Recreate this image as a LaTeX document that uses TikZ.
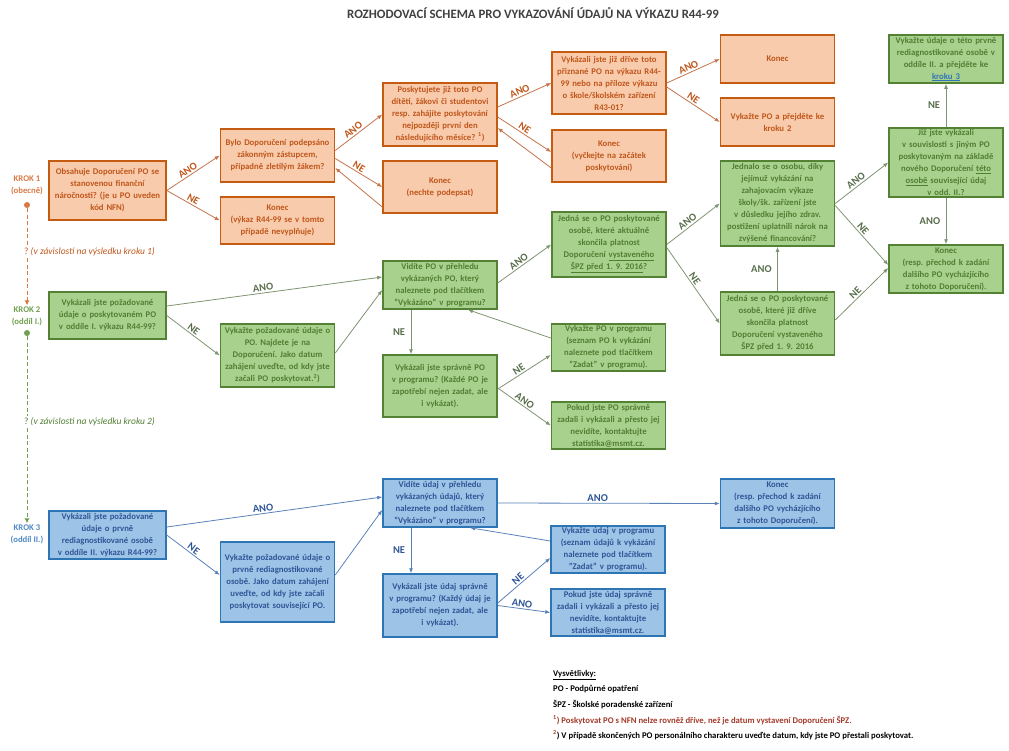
\documentclass[tikz,border=0pt]{standalone}
\usepackage{fontspec}
\setmainfont{Carlito}
\usetikzlibrary{arrows.meta}
\frenchspacing
\definecolor{ofill}{HTML}{F8CBAD}
\definecolor{oedge}{HTML}{C55A11}
\definecolor{otext}{HTML}{C0561A}
\definecolor{oline}{HTML}{C4734A}
\definecolor{gfill}{HTML}{A9D18E}
\definecolor{gedge}{HTML}{548235}
\definecolor{gtext}{HTML}{507E32}
\definecolor{gline}{HTML}{7F9472}
\definecolor{greenlab}{HTML}{596E4C}
\definecolor{bfill}{HTML}{9DC3E6}
\definecolor{bedge}{HTML}{2E75B6}
\definecolor{btext}{HTML}{2F5597}
\definecolor{bline}{HTML}{5B82B8}
\definecolor{kone}{HTML}{D97A45}
\definecolor{ktwo}{HTML}{70A050}
\definecolor{kthree}{HTML}{4F88C6}
\definecolor{titlegray}{HTML}{404040}
\definecolor{legred}{HTML}{A33A2A}
\begin{document}
\begin{tikzpicture}[x=1pt, y=-1pt,
  box/.style={draw, line width=1.5pt, align=center, inner sep=0pt, text width=113pt, minimum width=114pt, font=\fontsize{8.7}{12}\selectfont\bfseries},
  obox/.style={box, fill=ofill, draw=oedge, text=otext},
  gbox/.style={box, fill=gfill, draw=gedge, text=gtext},
  bbox/.style={box, fill=bfill, draw=bedge, text=btext},
  arr/.style={-{Latex[length=5pt,width=4pt]}, line width=0.8pt},
  oarr/.style={arr, draw=oline},
  garr/.style={arr, draw=gline},
  barr/.style={arr, draw=bline},
  lab/.style={font=\fontsize{10.5}{11}\selectfont\bfseries, inner sep=1.5pt},
  olab/.style={lab, text=otext, above, sloped, pos=0.45},
  glab/.style={lab, text=greenlab, above, sloped, pos=0.45},
  blab/.style={lab, text=btext, above, sloped, pos=0.45},
  gvlab/.style={lab, text=greenlab, left=4pt},
  bvlab/.style={lab, text=btext, left=4pt},
  kroklab/.style={align=center, inner sep=1pt, font=\fontsize{8.7}{12}\selectfont\bfseries},
  kdot/.style={circle, inner sep=0pt, minimum size=6pt},
  qtext/.style={anchor=west, inner sep=2pt, font=\fontsize{9.5}{11}\selectfont},
  kdash/.style={line width=0.8pt, dash pattern=on 4pt off 2.5pt}]
\useasboundingbox (0,0) rectangle (1009,750);

\node[font=\fontsize{12.8}{14}\selectfont\bfseries, text=titlegray] (title) at (533,13) {ROZHODOVACÍ SCHEMA PRO VYKAZOVÁNÍ ÚDAJŮ NA VÝKAZU R44-99};

% krok 1
\node[obox, minimum width=117pt, text width=116pt, minimum height=59pt] (o1) at (107.5,190.5) {Obsahuje Doporučení PO se\\stanovenou finanční\\náročnosti? (je u PO uveden\\kód NFN)};
\node[obox, minimum height=53pt] (o2) at (277.5,155.5) {Bylo Doporučení podepsáno\\zákonným zástupcem,\\případně zletilým žákem?};
\node[obox, minimum height=47pt] (o3) at (277.5,220.5) {Konec\\(výkaz R44-99 se v tomto\\případě nevyplňuje)};
\node[obox, minimum height=63pt] (o4) at (440,114.5) {Poskytujete již toto PO\\dítěti, žákovi či studentovi\\resp. zahájíte poskytování\\nejpozději první den\\následujícího měsíce? \textsuperscript{1})};
\node[obox, minimum height=52pt] (o5) at (440,187) {Konec\\(nechte podepsat)};
\node[obox, minimum height=62pt] (o6) at (609,83) {Vykázali jste již dříve toto\\přiznané PO na výkazu R44-\\99 nebo na příloze výkazu\\o škole/školském zařízení\\R43-01?};
\node[obox, minimum height=52pt] (o7) at (609,156) {Konec\\(vyčkejte na začátek\\poskytování)};
\node[obox, minimum height=48pt] (o8) at (777.5,59) {Konec};
\node[obox, minimum height=48pt] (o9) at (777.5,122) {Vykažte PO a přejděte ke\\kroku 2};

\draw[oarr] (o1.east) -- node[olab]{ANO} (o2.west);
\draw[oarr] (o1.east) -- node[olab]{NE} (o3.west);
\draw[oarr] ([yshift=5pt]o2.east) -- node[olab]{ANO} (o4.west);
\draw[oarr] ([yshift=-3pt]o2.east) -- node[olab]{NE} (o5.west);
\draw[oarr] ([yshift=-20pt]o5.west) -- ([yshift=-12.5pt]o2.east);
\draw[oarr] ([yshift=7.5pt]o4.east) -- node[olab]{ANO} (o6.west);
\draw[oarr] ([yshift=-2.5pt]o4.east) -- node[olab]{NE} ([yshift=4pt]o7.west);
\draw[oarr] ([yshift=-12pt]o7.west) -- ([yshift=-13.5pt]o4.east);
\draw[oarr] (o6.east) -- node[olab]{ANO} (o8.west);
\draw[oarr] ([yshift=-4pt]o6.east) -- node[olab]{NE} (o9.west);

% krok 2
\node[gbox, minimum height=48pt] (g1) at (946,59) {Vykažte údaje o této prvně\\rediagnostikované osobě v\\oddíle II. a přejděte ke\\\textcolor{bedge}{\underline{kroku 3}}};
\node[gbox, minimum height=69pt] (g2) at (946,162.5) {Již jste vykázali\\v souvislosti s jiným PO\\poskytovaným na základě\\nového Doporučení \underline{této}\\\underline{osobě} související údaj\\v odd. II.?};
\node[gbox, minimum height=48pt] (g3) at (946,269) {Konec\\(resp. přechod k zadání\\dalšího PO vycházjícího\\z tohoto Doporučení).};
\node[gbox, minimum height=85pt] (g4) at (777.5,203.5) {Jednalo se o osobu, díky\\jejímuž vykázání na\\zahajovacím výkaze\\školy/šk. zařízení jste\\v důsledku jejího zdrav.\\postižení uplatnili nárok na\\zvýšené financování?};
\node[gbox, minimum height=65pt] (g5) at (609,244.5) {Jedná se o PO poskytované\\osobě, které aktuálně\\skončila platnost\\Doporučení \underline{vystaveného}\\\underline{ŠPZ před 1. 9. 2016}?};
\node[gbox, minimum height=63pt] (g6) at (777.5,323.5) {Jedná se o PO poskytované\\osobě, které již dříve\\skončila platnost\\Doporučení vystaveného\\ŠPZ před 1. 9. 2016};
\node[gbox, minimum width=117pt, text width=116pt, minimum height=47pt] (g7) at (107.5,315.5) {Vykázali jste požadované\\údaje o poskytovaném PO\\v oddíle I. výkazu R44-99?};
\node[gbox, minimum height=63pt] (g8) at (277.5,355.5) {Vykažte požadované údaje o\\PO. Najdete je na\\Doporučení. Jako datum\\zahájení uveďte, od kdy jste\\začali PO poskytovat.\textsuperscript{2})};
\node[gbox, minimum height=48pt] (g9) at (440,285) {Vidíte PO v přehledu\\vykázaných PO, který\\naleznete pod tlačítkem\\\symbol{34}Vykázáno\symbol{34} v programu?};
\node[gbox, minimum height=62pt] (g10) at (440,386) {Vykázali jste správně PO\\v programu? (Každé PO je\\zapotřebí nejen zadat, ale\\i vykázat).};
\node[gbox, minimum height=47pt] (g11) at (608.5,347.5) {Vykažte PO v programu\\(seznam PO k vykázání\\naleznete pod tlačítkem\\\symbol{34}Zadat\symbol{34} v programu).};
\node[gbox, minimum height=47pt] (g12) at (608.5,425.5) {Pokud jste PO správně\\zadali i vykázali a přesto jej\\nevidíte, kontaktujte\\statistika@msmt.cz.};

\draw[garr] ([yshift=9.5pt]g7.east) -- node[glab]{ANO} ([yshift=8pt]g9.west);
\draw[garr] (g7.east) -- node[glab]{NE} (g8.west);
\draw[garr] ([yshift=2.5pt]g8.east) -- ([yshift=-5pt]g9.west);
\draw[garr] ([yshift=2pt]g9.east) -- node[glab]{ANO} (g5.west);
\draw[garr] ([xshift=-29pt]g9.south) -- node[gvlab]{NE} ([xshift=-29pt]g10.north);
\draw[garr] ([yshift=-3pt]g10.east) -- node[glab]{NE} ([yshift=-7.5pt]g11.west);
\draw[garr] ([yshift=-2pt]g10.east) -- node[glab]{ANO} (g12.west);
\draw[garr] ([yshift=9.5pt]g11.west) -- ([xshift=28pt]g9.south);
\draw[garr] (g5.east) -- node[glab]{ANO} (g4.west);
\draw[garr] ([yshift=-3pt]g5.east) -- node[glab]{NE} (g6.west);
\draw[garr] (g6.north) -- node[gvlab]{ANO} (g4.south);
\draw[garr] (g4.east) -- node[glab]{ANO} (g2.west);
\draw[garr] ([yshift=-2pt]g4.east) -- node[glab]{NE} ([yshift=4pt]g3.west);
\draw[garr] ([yshift=3.5pt]g6.east) -- node[glab]{NE} ([yshift=1pt]g3.west);
\draw[garr] (g2.north) -- node[gvlab]{NE} (g1.south);
\draw[garr] (g2.south) -- node[gvlab]{ANO} (g3.north);

% krok 3
\node[bbox, minimum width=117pt, text width=116pt, minimum height=48pt] (b1) at (107.5,535) {Vykázali jste požadované\\údaje o prvně\\rediagnostikované osobě\\v oddíle II. výkazu R44-99?};
\node[bbox, minimum height=80pt] (b2) at (277.5,582) {Vykažte požadované údaje o\\prvně rediagnostikované\\osobě. Jako datum zahájení\\uveďte, od kdy jste začali\\poskytovat související PO.};
\node[bbox, minimum height=48pt] (b3) at (440,503) {Vidíte údaj v přehledu\\vykázaných údajů, který\\naleznete pod tlačítkem\\\symbol{34}Vykázáno\symbol{34} v programu?};
\node[bbox, minimum height=63pt] (b4) at (440,605.5) {Vykázali jste údaj správně\\v programu? (Každý údaj je\\zapotřebí nejen zadat, ale\\i vykázat).};
\node[bbox, minimum height=47pt] (b5) at (608,549.5) {Vykažte údaj v programu\\(seznam údajů k vykázání\\naleznete pod tlačítkem\\\symbol{34}Zadat\symbol{34} v programu).};
\node[bbox, minimum height=47pt] (b6) at (608,612.5) {Pokud jste údaj správně\\zadali i vykázali a přesto jej\\nevidíte, kontaktujte\\statistika@msmt.cz.};
\node[bbox, minimum height=49pt] (b7) at (777.5,503.5) {Konec\\(resp. přechod k zadání\\dalšího PO vycházjícího\\z tohoto Doporučení).};

\draw[barr] ([yshift=8pt]b1.east) -- node[blab]{ANO} ([yshift=6pt]b3.west);
\draw[barr] (b1.east) -- node[blab]{NE} ([yshift=7pt]b2.west);
\draw[barr] ([yshift=7pt]b2.east) -- ([yshift=-7pt]b3.west);
\draw[barr] (b3.east) -- node[blab]{ANO} (b7.west);
\draw[barr] ([xshift=-29pt]b3.south) -- node[bvlab]{NE} ([xshift=-29pt]b4.north);
\draw[barr] ([yshift=2.5pt]b4.east) -- node[blab]{NE} ([yshift=-8.5pt]b5.west);
\draw[barr] (b4.east) -- node[blab]{ANO} (b6.west);
\draw[barr] ([yshift=8.5pt]b5.west) -- ([xshift=30pt]b3.south);

% kroky vlevo
\node[kroklab, text=kone] (k1) at (27,185) {KROK 1\\(obecně)};
\node[kdot, fill=kone] (d1) at (27,205) {};
\node[qtext, text=otext] (q1) at (22,252) {? \textit{(v závislosti na výsledku kroku 1)}};
\node[kroklab, text=ktwo] (k2) at (27,316) {KROK 2\\(oddíl I.)};
\node[kdot, fill=ktwo] (d2) at (27,333) {};
\node[qtext, text=gtext] (q2) at (22,422) {? \textit{(v závislosti na výsledku kroku 2)}};
\node[kroklab, text=kthree] (k3) at (27,534) {KROK 3\\(oddíl II.)};
\draw[kdash, draw=kone] (d1) -- (d1 |- q1.north);
\draw[kdash, draw=kone, -{Latex[length=5pt,width=5pt]}] (d1 |- q1.south) -- (k2.north);
\draw[kdash, draw=ktwo] (d2) -- (d2 |- q2.north);
\draw[kdash, draw=ktwo, -{Latex[length=5pt,width=5pt]}] (d2 |- q2.south) -- (k3.north);

% vysvetlivky
\node[anchor=north west, align=left, inner sep=0pt, font=\fontsize{8.7}{15.6}\selectfont\bfseries] (legend) at (553,670) {\underline{Vysvětlivky:}\\PO - Podpůrné opatření\\ŠPZ - Školské poradenské zařízení\\\textcolor{legred}{\textsuperscript{1}) Poskytovat PO s NFN nelze rovněž dříve, než je datum vystavení Doporučení ŠPZ.}\\\textcolor{legred}{\textsuperscript{2}}) V případě skončených PO personálního charakteru uveďte datum, kdy jste PO přestali poskytovat.};
\end{tikzpicture}
\end{document}
